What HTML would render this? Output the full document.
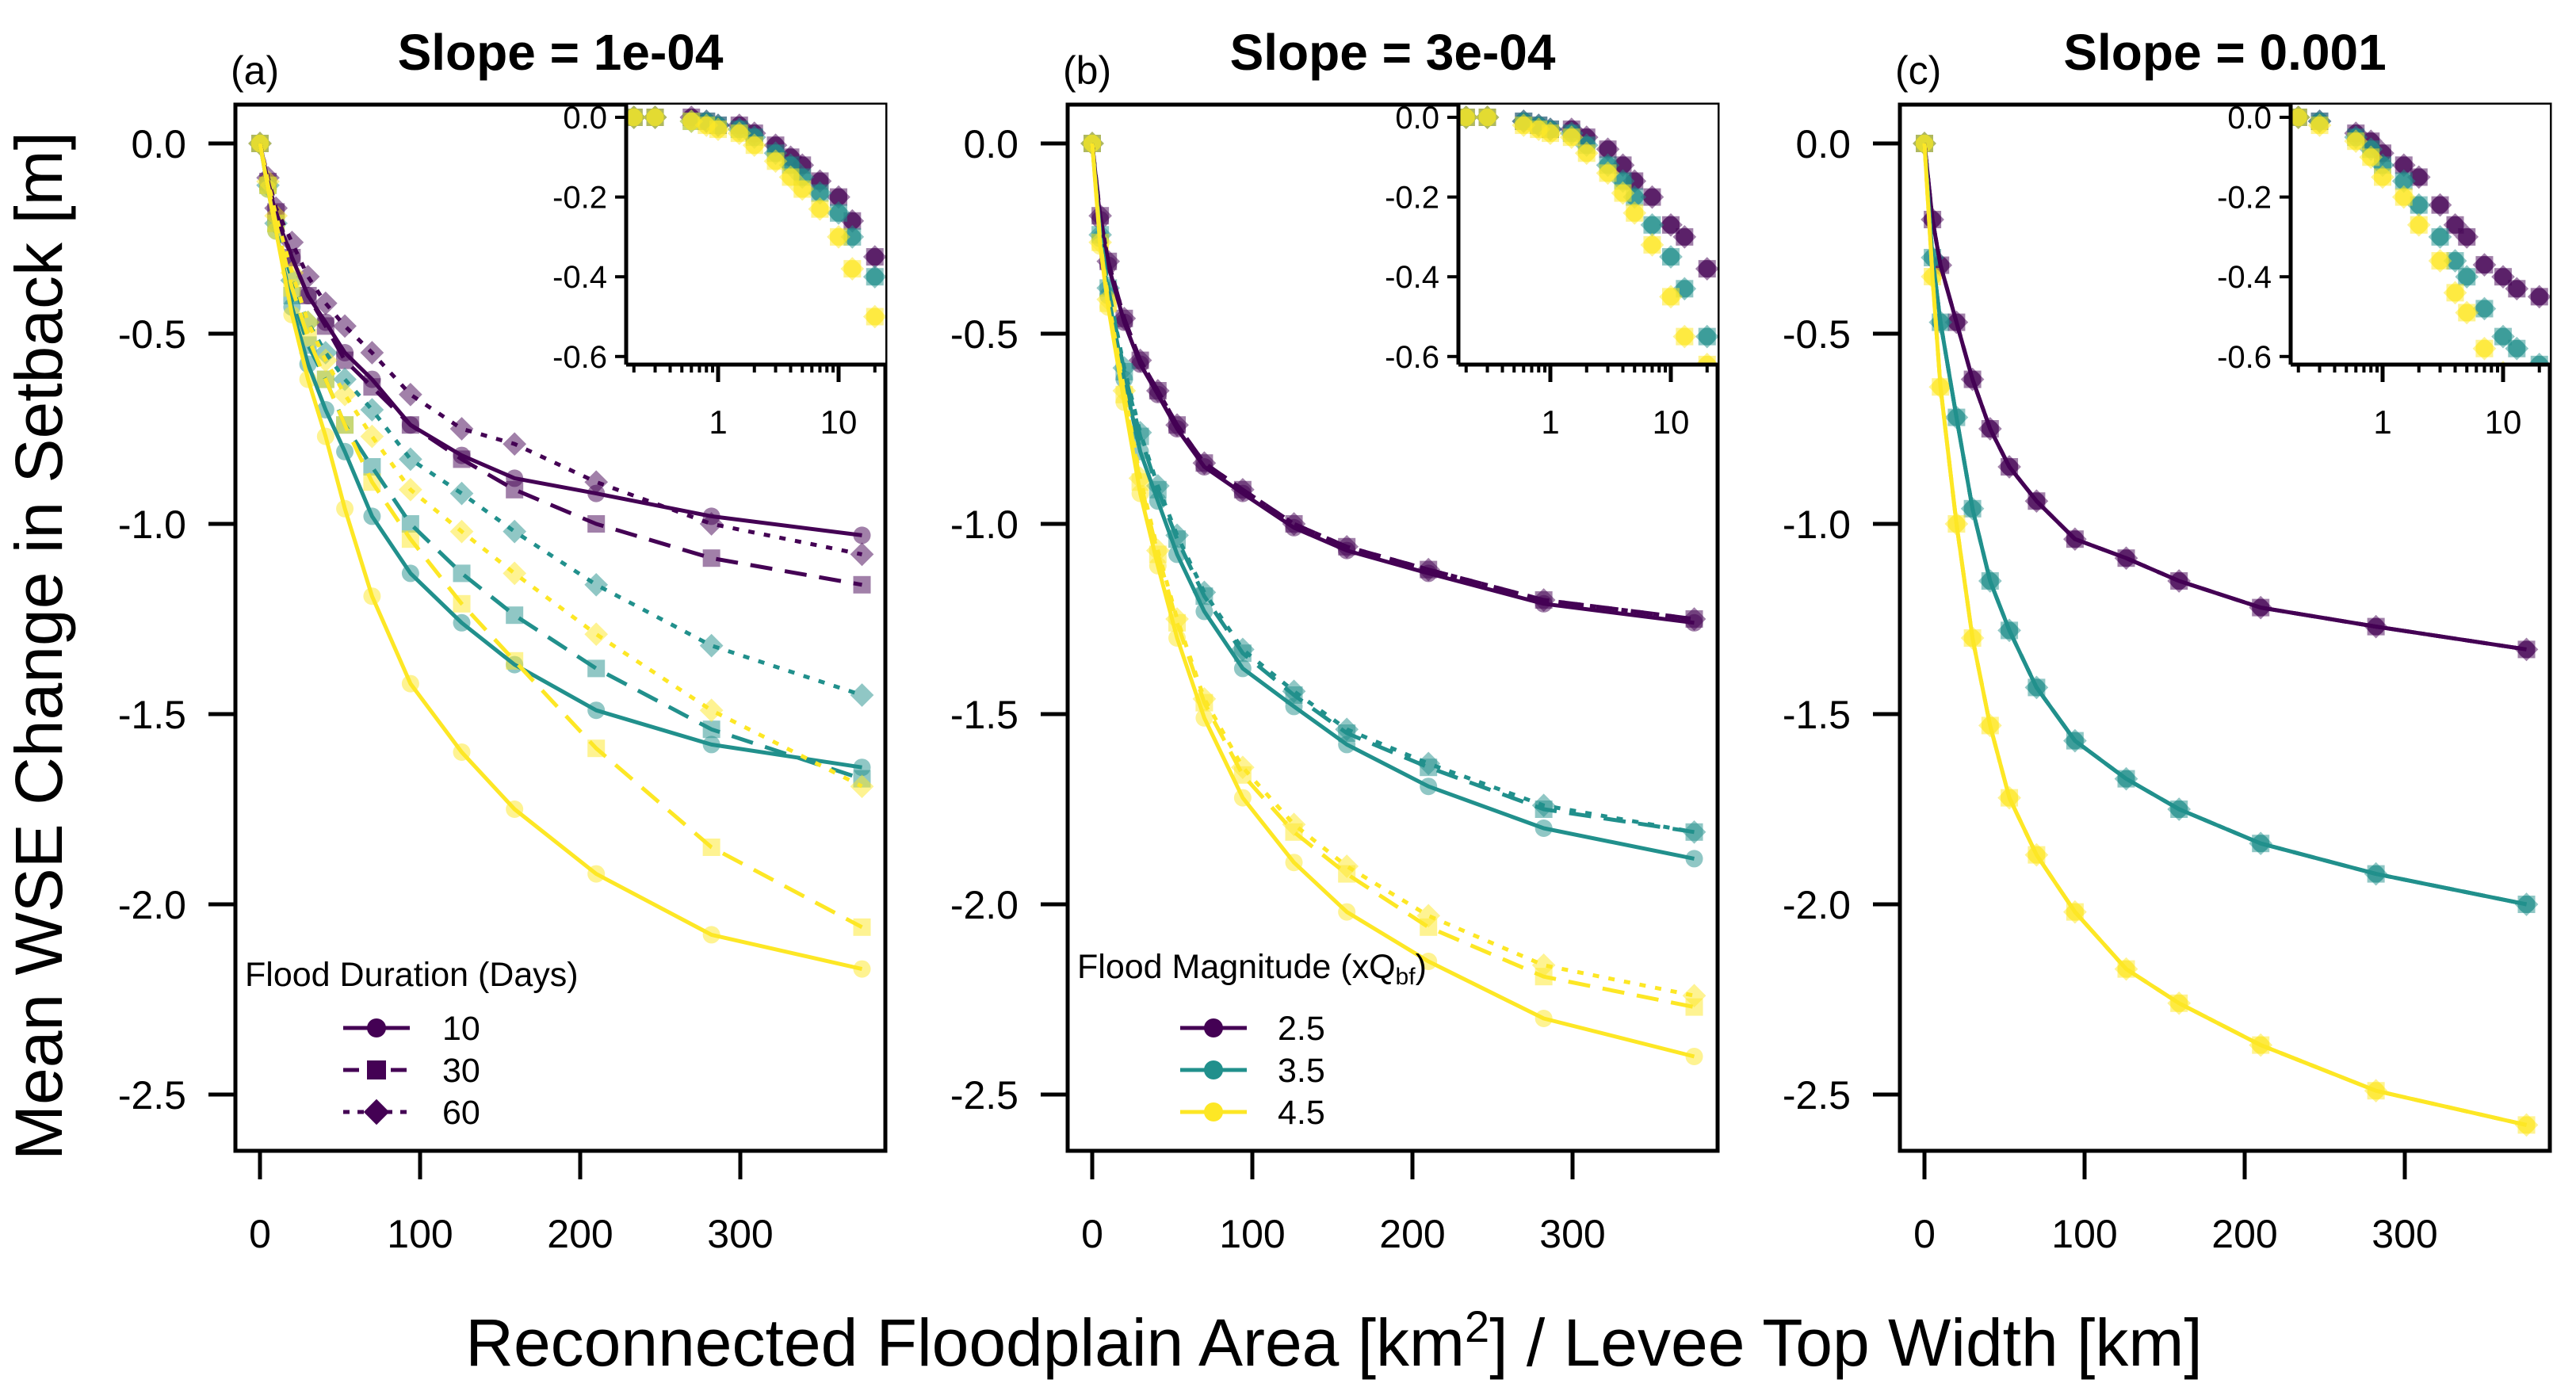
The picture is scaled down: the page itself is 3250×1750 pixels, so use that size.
<!DOCTYPE html>
<html><head><meta charset="utf-8">
<style>
html,body{margin:0;padding:0;background:#fff;}
svg{display:block;font-family:"Liberation Sans",Arial,sans-serif;}
</style></head>
<body>
<svg id="fig" xmlns="http://www.w3.org/2000/svg" width="3250" height="1750" viewBox="0 0 3250 1750">
<rect x="0" y="0" width="3250" height="1750" fill="#fff"/>
<text x="0" y="0" transform="translate(78,815) rotate(-90)" text-anchor="middle" font-size="84">Mean WSE Change in Setback [m]</text>
<text x="1683" y="1723" text-anchor="middle" font-size="84">Reconnected Floodplain Area [km<tspan dy="-30" font-size="56">2</tspan><tspan dy="30">] / Levee Top Width [km]</tspan></text>
</svg>
<script>
// ---------- data ----------
const lineX = [0,5,10,20,30,41,53,70,94,126,159,210,282,376];
const xTicks = [0,100,200,300];
const yTicks = [0,-0.5,-1,-1.5,-2,-2.5];
const yTickLabels = ["0.0","-0.5","-1.0","-1.5","-2.0","-2.5"];
const insetYTicks = [0,-0.2,-0.4,-0.6];
const insetYTickLabels = ["0.0","-0.2","-0.4","-0.6"];
const insetXTicks = [1,10];
const insetXTickLabels = ["1","10"];
const insetX = [0.2,0.3,0.6,0.8,1,1.5,2,3,4,5,7,10,13,20];
const panelTitles = ["Slope = 1e-04","Slope = 3e-04","Slope = 0.001"];
const panelLetters = ["(a)","(b)","(c)"];
const durationLabels = ["10","30","60"];
const magnitudeLabels = ["2.5","3.5","4.5"];

// panel a (slope 1e-04): colour = magnitude, style = duration
const aP10 = [0,-0.10,-0.19,-0.30,-0.40,-0.47,-0.55,-0.62,-0.74,-0.82,-0.88,-0.92,-0.98,-1.03];
const aP30 = [0,-0.10,-0.18,-0.30,-0.40,-0.48,-0.57,-0.64,-0.74,-0.83,-0.91,-1.00,-1.09,-1.16];
const aP60 = [0,-0.09,-0.17,-0.26,-0.35,-0.42,-0.48,-0.55,-0.66,-0.75,-0.79,-0.89,-1.00,-1.08];
const aT10 = [0,-0.12,-0.23,-0.43,-0.58,-0.70,-0.81,-0.98,-1.13,-1.26,-1.37,-1.49,-1.58,-1.64];
const aT30 = [0,-0.11,-0.21,-0.40,-0.53,-0.62,-0.74,-0.85,-1.00,-1.13,-1.24,-1.38,-1.54,-1.67];
const aT60 = [0,-0.11,-0.21,-0.36,-0.47,-0.55,-0.62,-0.70,-0.83,-0.92,-1.02,-1.16,-1.32,-1.45];
const aY10 = [0,-0.12,-0.23,-0.45,-0.62,-0.77,-0.96,-1.19,-1.42,-1.60,-1.75,-1.92,-2.08,-2.17];
const aY30 = [0,-0.11,-0.21,-0.38,-0.51,-0.62,-0.74,-0.89,-1.04,-1.21,-1.36,-1.59,-1.85,-2.06];
const aY60 = [0,-0.10,-0.19,-0.34,-0.47,-0.57,-0.66,-0.77,-0.91,-1.02,-1.13,-1.29,-1.49,-1.69];
// panel b (slope 3e-04)
const bP10 = [0,-0.20,-0.32,-0.47,-0.58,-0.66,-0.75,-0.85,-0.92,-1.01,-1.07,-1.13,-1.21,-1.26];
const bP30 = [0,-0.19,-0.31,-0.46,-0.57,-0.65,-0.74,-0.84,-0.91,-1.00,-1.06,-1.12,-1.20,-1.25];
const bP60 = [0,-0.19,-0.31,-0.46,-0.57,-0.65,-0.74,-0.84,-0.91,-1.00,-1.06,-1.12,-1.20,-1.25];
const bT10 = [0,-0.25,-0.40,-0.62,-0.81,-0.94,-1.08,-1.23,-1.38,-1.48,-1.58,-1.69,-1.80,-1.88];
const bT30 = [0,-0.24,-0.38,-0.60,-0.77,-0.91,-1.04,-1.19,-1.34,-1.45,-1.55,-1.64,-1.75,-1.81];
const bT60 = [0,-0.24,-0.38,-0.59,-0.76,-0.90,-1.03,-1.18,-1.33,-1.44,-1.54,-1.63,-1.74,-1.81];
const bY10 = [0,-0.27,-0.43,-0.68,-0.92,-1.11,-1.30,-1.51,-1.72,-1.89,-2.02,-2.15,-2.30,-2.40];
const bY30 = [0,-0.26,-0.42,-0.66,-0.89,-1.08,-1.26,-1.47,-1.66,-1.81,-1.92,-2.06,-2.19,-2.27];
const bY60 = [0,-0.26,-0.41,-0.65,-0.88,-1.07,-1.25,-1.46,-1.64,-1.79,-1.90,-2.03,-2.16,-2.24];
// panel c (slope 0.001)
const cP = [0,-0.20,-0.32,-0.47,-0.62,-0.75,-0.85,-0.94,-1.04,-1.09,-1.15,-1.22,-1.27,-1.33];
const cT = [0,-0.30,-0.47,-0.72,-0.96,-1.15,-1.28,-1.43,-1.57,-1.67,-1.75,-1.84,-1.92,-2.00];
const cY = [0,-0.35,-0.64,-1.00,-1.30,-1.53,-1.72,-1.87,-2.02,-2.17,-2.26,-2.37,-2.49,-2.58];
// insets (log x)
const aInP = [0,0,0,-0.01,-0.02,-0.02,-0.04,-0.07,-0.10,-0.12,-0.16,-0.20,-0.26,-0.35];
const aInT = [0,0,-0.01,-0.01,-0.02,-0.03,-0.05,-0.09,-0.12,-0.15,-0.19,-0.24,-0.30,-0.40];
const aInY = [0,0,-0.01,-0.02,-0.03,-0.04,-0.07,-0.11,-0.15,-0.18,-0.23,-0.30,-0.38,-0.50];
const bInP = [0,0,-0.01,-0.02,-0.03,-0.03,-0.05,-0.08,-0.12,-0.16,-0.20,-0.27,-0.30,-0.38];
const bInT = [0,0,-0.01,-0.02,-0.03,-0.04,-0.07,-0.12,-0.16,-0.20,-0.27,-0.35,-0.43,-0.55];
const bInY = [0,0,-0.02,-0.03,-0.04,-0.05,-0.09,-0.14,-0.19,-0.24,-0.32,-0.45,-0.55,-0.62];
const cInP = [0,-0.01,-0.04,-0.06,-0.09,-0.12,-0.15,-0.22,-0.27,-0.30,-0.37,-0.40,-0.43,-0.45];
const cInT = [0,-0.01,-0.05,-0.08,-0.12,-0.16,-0.22,-0.30,-0.36,-0.40,-0.48,-0.55,-0.58,-0.62];
const cInY = [0,-0.02,-0.06,-0.10,-0.15,-0.20,-0.27,-0.36,-0.44,-0.49,-0.58,-0.64,-0.68,-0.70];

// ---------- drawing ----------
const NS = "http://www.w3.org/2000/svg";
const svg = document.getElementById("fig");
const COL = ["#440154","#21908C","#FDE725"];
const DASH = [null,"28 16","8 12"];
const SHAPES = ["circle","square","diamond"];
function mk(tag, attrs, parent){
  const e = document.createElementNS(NS, tag);
  for (const k in attrs) e.setAttribute(k, attrs[k]);
  (parent||svg).appendChild(e);
  return e;
}
function marker(shape, cx, cy, col, op, parent, r){
  r = r || 11;
  let e;
  if (shape === "circle") e = mk("circle",{cx:cx,cy:cy,r:r,fill:col,"fill-opacity":op},parent);
  else if (shape === "square") e = mk("rect",{x:cx-r,y:cy-r,width:2*r,height:2*r,fill:col,"fill-opacity":op},parent);
  else { const d=r*1.35; e = mk("polygon",{points:`${cx},${cy-d} ${cx+d},${cy} ${cx},${cy+d} ${cx-d},${cy}`,fill:col,"fill-opacity":op},parent); }
  return e;
}
const panels = [
  {series:[[aP10,aP30,aP60],[aT10,aT30,aT60],[aY10,aY30,aY60]], inset:[aInP,aInT,aInY], legend:"a"},
  {series:[[bP10,bP30,bP60],[bT10,bT30,bT60],[bY10,bY30,bY60]], inset:[bInP,bInT,bInY], legend:"b"},
  {series:[[cP,cP,cP],[cT,cT,cT],[cY,cY,cY]], inset:[cInP,cInT,cInY], legend:null}
];
const TOP=132, BOT=1452, W=820;
panels.forEach((p, pi) => {
  const L = 297 + pi*1050, R = L + W;
  const xs = v => L + 31 + v*2.02;
  const ys = v => 181 - v*480;
  const g = mk("g",{});
  
  
  const t = mk("text",{x:L+410,y:88,"text-anchor":"middle","font-size":64,"font-weight":"bold"},g);
  t.textContent = panelTitles[pi];
  
  
  const lt = mk("text",{x:L-6,y:106,"font-size":50},g);
  lt.textContent = panelLetters[pi];
  
  
  const cid = "clip"+pi;
  const cp = mk("clipPath",{id:cid},g);
  mk("rect",{x:L,y:TOP,width:W,height:BOT-TOP},cp);
  const pg = mk("g",{"clip-path":`url(#${cid})`},g);
  p.series.forEach((grp, ci) => {
    grp.forEach((arr, di) => {
      arr.forEach((v, i) => {
        const m = marker(SHAPES[di], xs(lineX[i]), ys(v), COL[ci], 0.5, pg);
        
        
      });
    });
  });
  p.series.forEach((grp, ci) => {
    grp.forEach((arr, di) => {
      const pts = arr.map((v,i)=>xs(lineX[i]).toFixed(1)+","+ys(v).toFixed(1)).join(" ");
      const a = {points:pts,fill:"none",stroke:COL[ci],"stroke-width":5,"stroke-linejoin":"round"};
      if (DASH[di]) a["stroke-dasharray"] = DASH[di];
      const pl = mk("polyline",a,pg);
      
      
    });
  });
  mk("rect",{x:L,y:TOP,width:W,height:BOT-TOP,fill:"none",stroke:"#000","stroke-width":5},g);
  yTicks.forEach((v,i)=>{
    mk("line",{x1:L-34,x2:L,y1:ys(v),y2:ys(v),stroke:"#000","stroke-width":5},g);
    const tx = mk("text",{x:L-62,y:ys(v)+18,"text-anchor":"end","font-size":50},g);
    tx.textContent = yTickLabels[i];
    
    
  });
  xTicks.forEach(v=>{
    mk("line",{x1:xs(v),x2:xs(v),y1:BOT,y2:BOT+36,stroke:"#000","stroke-width":5},g);
    const tx = mk("text",{x:xs(v),y:1574,"text-anchor":"middle","font-size":50},g);
    tx.textContent = String(v);
    
    
  });
  const IL = L+493, IT = TOP, IB = 460;
  const ixs = v => L + 609 + Math.log10(v)*152;
  const iys = v => 148 - v*503;
  const ig = mk("g",{},g);
  
  
  mk("rect",{x:IL,y:IT,width:R-IL,height:IB-IT,fill:"#fff"},ig);
  const icid = "iclip"+pi;
  const icp = mk("clipPath",{id:icid},ig);
  mk("rect",{x:IL,y:IT,width:R-IL,height:IB-IT},icp);
  const ipg = mk("g",{"clip-path":`url(#${icid})`},ig);
  p.inset.forEach((arr, ci) => {
    SHAPES.forEach((sh, di) => {
      arr.forEach((v,i)=>{
        const m = marker(sh, ixs(insetX[i]), iys(v), COL[ci], 0.5, ipg);
        
        
      });
    });
  });
  mk("line",{x1:IL,x2:IL,y1:IT,y2:IB,stroke:"#000","stroke-width":5},ig);
  mk("line",{x1:IL,x2:R,y1:IB,y2:IB,stroke:"#000","stroke-width":5},ig);
  insetYTicks.forEach((v,i)=>{
    mk("line",{x1:IL-14,x2:IL,y1:iys(v),y2:iys(v),stroke:"#000","stroke-width":4},ig);
    const tx = mk("text",{x:IL-24,y:iys(v)+14,"text-anchor":"end","font-size":40},ig);
    tx.textContent = insetYTickLabels[i];
    
    
  });
  [0.2,0.3,0.4,0.5,0.6,0.7,0.8,0.9,2,3,4,5,6,7,8,9,20].forEach(v=>{
    mk("line",{x1:ixs(v),x2:ixs(v),y1:IB,y2:IB+10,stroke:"#000","stroke-width":4},ig);
  });
  insetXTicks.forEach((v,i)=>{
    mk("line",{x1:ixs(v),x2:ixs(v),y1:IB,y2:IB+22,stroke:"#000","stroke-width":5},ig);
    const tx = mk("text",{x:ixs(v),y:547,"text-anchor":"middle","font-size":42},ig);
    tx.textContent = insetXTickLabels[i];
    
    
  });
  if (p.legend) {
    const lg = mk("g",{},g);
    
    
    const title = mk("text",{x:L+12,y:p.legend==="a"?1244:1234,"font-size":43},lg);
    if (p.legend === "a") title.textContent = "Flood Duration (Days)";
    else { title.textContent = "Flood Magnitude (xQ"; const s = mk("tspan",{"font-size":30,dy:8},title); s.textContent="bf"; const s2 = mk("tspan",{dy:-8},title); s2.textContent=")"; }
    
    
    const rows = [1297,1350,1403];
    rows.forEach((ry, k)=>{
      const e = mk("g",{},lg);
      
      
      const x0 = p.legend==="a" ? L+136 : L+142;
      const col = p.legend==="a" ? COL[0] : COL[k];
      const a = {x1:x0,x2:x0+84,y1:ry,y2:ry,stroke:col,"stroke-width":5};
      if (p.legend==="a" && DASH[k]) a["stroke-dasharray"] = k===1 ? "20 10" : "8 10";
      mk("line",a,e);
      marker(p.legend==="a" ? SHAPES[k] : "circle", x0+42, ry, col, 1, e, 12);
      const tx = mk("text",{x:p.legend==="a"? L+261 : L+265,y:ry+15,"font-size":43},e);
      tx.textContent = p.legend==="a" ? durationLabels[k] : magnitudeLabels[k];
    });
  }
});
</script>
</body></html>
